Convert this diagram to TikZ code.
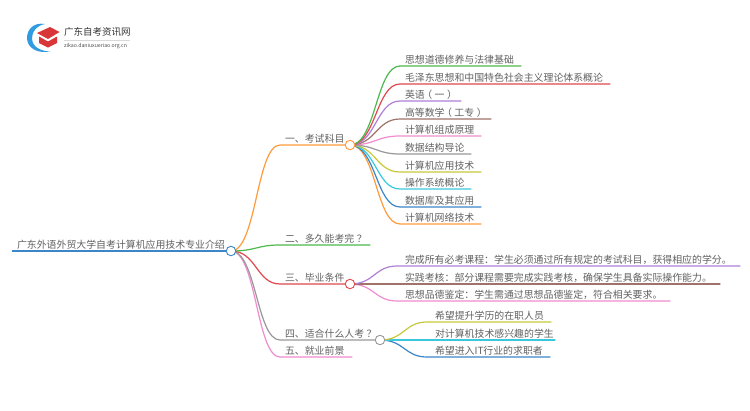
\documentclass[tikz,border=0pt]{standalone}
\usepackage{fontspec}
\setmainfont{Noto Sans CJK SC}
\usetikzlibrary{calc}
\definecolor{cora}{HTML}{FF9A3C}
\definecolor{cgre}{HTML}{4DB84D}
\definecolor{cred}{HTML}{E0484E}
\definecolor{cpur}{HTML}{B07FD8}
\definecolor{cbro}{HTML}{A0736A}
\definecolor{cpin}{HTML}{F08CD0}
\definecolor{cgra}{HTML}{999999}
\definecolor{coli}{HTML}{C8C83C}
\definecolor{ccya}{HTML}{3CC8DC}
\definecolor{cblu}{HTML}{3A86C8}
\definecolor{logob}{HTML}{2F9BE0}
\definecolor{logor}{HTML}{D9363A}
\tikzset{
  lab/.style={font=\fontsize{9.9}{12}\selectfont,text=black!62,anchor=south west,inner sep=0pt,outer sep=0pt},
  hub/.style={circle,draw,fill=white,line width=0.9pt,minimum size=9.5pt,inner sep=0pt},
  ln/.style={line width=1.2pt},
}
\newcommand{\lp}{\kern-2.5pt（\kern2.5pt}
\newcommand{\rp}{\kern2.5pt）\kern-2.5pt}
\newcommand{\qm}{\kern2.5pt？}
% \br{colour}{from}{x0}{y}{x1}
\newcommand{\br}[5]{%
  \coordinate (s) at (#3,#4);
  \coordinate (m) at ($(#2)!0.52!(s)$);
  \draw[ln,#1,line cap=round] (#2) .. controls (m |- #2) and (m |- s) .. (s) -- (#5,#4);}
\begin{document}
\begin{tikzpicture}[x=1pt,y=-1pt]
\useasboundingbox (0,0) rectangle (750,410);
\fill[white] (0,0) rectangle (750,410);
% logo
\fill[logob] (45,24) .. controls (33,22) and (27,30) .. (27,38) .. controls (27,47) and (36,54) .. (50,51.5)
  .. controls (39,51) and (32,46) .. (32,38) .. controls (32,31) and (37,25.5) .. (45,24) -- cycle;
\fill[logor] (37,33) -- (50,27) -- (59.5,32) -- (48,39) -- cycle;
\fill[logor] (39,36.5) -- (48,41.5) -- (57,36.5) -- (57,43) -- (48,47.5) -- (39,43) -- cycle;
\node[anchor=west,inner sep=0pt,font=\fontsize{9.5}{11}\selectfont,text=black!80] (lt) at (64,31.5) {广东自考资讯网};
\draw[black!15,line width=0.4pt] (64,40) -- (130,40);
\node[anchor=west,inner sep=0pt,font=\fontsize{5.2}{6}\selectfont,text=black!70] (ls) at (64,46) {zikao.daniuxueriao.org.cn};
% hubs positions
\coordinate (R) at (231,251);
\coordinate (A) at (350,145);
\coordinate (C) at (350,284);
\coordinate (D) at (380,340);
% root
\draw[ln,cblu] (12,251) -- (R);
\node[lab] at (17,249.5) {广东外语外贸大学自考计算机应用技术专业介绍};
% level 1
\br{cpin}{R}{280}{357}{352}
\br{cgra}{R}{280}{340}{380}
\br{cred}{R}{280}{284}{350}
\br{cgre}{R}{280}{245}{370}
\br{cora}{R}{280}{145}{350}
\node[lab] at (285,143.5) {一、考试科目};
\node[lab] at (285,243.5) {二、多久能考完\qm};
\node[lab] at (285,282.5) {三、毕业条件};
\node[lab] at (285,338.5) {四、适合什么人考\qm};
\node[lab] at (285,355.5) {五、就业前景};
% level 2 exam subjects
\br{cora}{A}{400}{224}{481}
\br{cblu}{A}{400}{207}{481}
\br{ccya}{A}{400}{189}{471}
\br{coli}{A}{400}{172}{481}
\br{cgra}{A}{400}{154}{471}
\br{cpin}{A}{400}{136}{481}
\br{cbro}{A}{400}{119}{491}
\br{cpur}{A}{400}{101}{461}
\br{cred}{A}{400}{84}{610}
\br{cgre}{A}{400}{66}{521}
\node[lab] at (405,64.5) {思想道德修养与法律基础};
\node[lab] at (405,82.5) {毛泽东思想和中国特色社会主义理论体系概论};
\node[lab] at (405,99.5) {英语\lp 一\rp};
\node[lab] at (405,117.5) {高等数学\lp 工专\rp};
\node[lab] at (405,134.5) {计算机组成原理};
\node[lab] at (405,152.5) {数据结构导论};
\node[lab] at (405,170.5) {计算机应用技术};
\node[lab] at (405,187.5) {操作系统概论};
\node[lab] at (405,205.5) {数据库及其应用};
\node[lab] at (405,222.5) {计算机网络技术};
% level 2 graduation
\br{cpin}{C}{397}{301}{670}
\br{cbro}{C}{397}{284}{720}
\br{cpur}{C}{397}{266}{740}
\node[lab] at (405,264.5) {完成所有必考课程：学生必须通过所有规定的考试科目，获得相应的学分。};
\node[lab] at (405,282.5) {实践考核：部分课程需要完成实践考核，确保学生具备实际操作能力。};
\node[lab] at (405,299.5) {思想品德鉴定：学生需通过思想品德鉴定，符合相关要求。};
% level 2 who
\br{cblu}{D}{427}{357}{550}
\br{ccya}{D}{427}{340}{555}
\br{coli}{D}{427}{322}{551}
\node[lab] at (435,320.5) {希望提升学历的在职人员};
\node[lab] at (435,338.5) {对计算机技术感兴趣的学生};
\node[lab] at (435,355.5) {希望进入IT行业的求职者};
% hubs
\node[hub,draw=cblu] (Rn) at (R) {};
\node[hub,draw=cora] (An) at (A) {};
\node[hub,draw=cred] (Cn) at (C) {};
\node[hub,draw=cgra] (Dn) at (D) {};
\end{tikzpicture}
\end{document}
